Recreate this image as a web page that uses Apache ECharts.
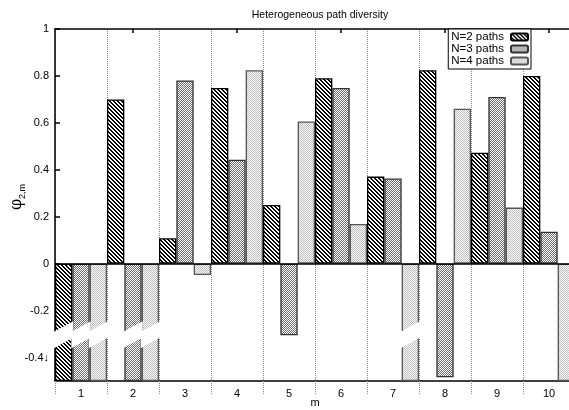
<!DOCTYPE html>
<html>
<head>
<meta charset="utf-8">
<script src="https://cdn.jsdelivr.net/npm/echarts@6/dist/echarts.min.js"></script>
<style>
  html, body { margin: 0; padding: 0; background: #fff; }
  #chart { width: 569px; height: 410px; }
</style>
</head>
<body>
<div id="chart"></div>
<script>
// 数据
var categories = ['1', '2', '3', '4', '5', '6', '7', '8', '9', '10'];
var seriesNames = ['N=2 paths', 'N=3 paths', 'N=4 paths'];
// values below -0.5 run off the axis, drawn down to the bottom
var n2Values = [-0.5, 0.70, 0.108, 0.749, 0.25, 0.79, 0.371, 0.824, 0.473, 0.80];
var n3Values = [-0.5, -0.5, 0.781, 0.443, -0.305, 0.749, 0.363, -0.484, 0.71, 0.136];
var n4Values = [-0.5, -0.5, -0.048, 0.824, 0.606, 0.169, -0.5, 0.66, 0.239, -0.5];
// [category index, series index] of bars drawn with a break
var brokenBars = [[0, 0], [0, 1], [0, 2], [1, 1], [1, 2], [6, 2]];

// 填充图案 (pixel tiles)
function makePattern(type) {
    var c = document.createElement('canvas');
    var n, ctx, x, y;
    if (type === 'back') {
        n = 4;
        c.width = n; c.height = n;
        ctx = c.getContext('2d');
        ctx.fillStyle = '#fff'; ctx.fillRect(0, 0, n, n);
        ctx.fillStyle = '#000';
        for (y = 0; y < n; y++) {
            for (x = 0; x < n; x++) {
                var d = ((x - y) % n + n) % n;
                if (d === 0 || d === 1) ctx.fillRect(x, y, 1, 1);
            }
        }
    } else if (type === 'fwd') {
        n = 2;
        c.width = n; c.height = n;
        ctx = c.getContext('2d');
        ctx.fillStyle = '#fff'; ctx.fillRect(0, 0, n, n);
        ctx.fillStyle = '#6e6e6e';
        ctx.fillRect(1, 0, 1, 1); ctx.fillRect(0, 1, 1, 1);
    } else {
        c.width = 2; c.height = 2;
        ctx = c.getContext('2d');
        ctx.fillStyle = '#f6f6f6'; ctx.fillRect(0, 0, 2, 2);
        ctx.fillStyle = '#c2c2c2';
        ctx.fillRect(0, 0, 1, 1); ctx.fillRect(1, 1, 1, 1);
    }
    return { image: c, repeat: 'repeat' };
}

var myChart = echarts.init(document.getElementById('chart'), null, { renderer: 'canvas' });
var dotColor = '#5c9696';
var font = 'Liberation Sans, Arial, sans-serif';

function barSeries(name, data, pattern, border) {
    return {
        name: name,
        type: 'bar',
        data: data,
        barGap: '0%',
        barCategoryGap: '0%',
        itemStyle: {
            color: makePattern(pattern),
            borderColor: border,
            borderWidth: 1.3
        },
        z: 2
    };
}

var s1 = barSeries(seriesNames[0], n2Values, 'back', '#000');
s1.markLine = {
    silent: true,
    symbol: 'none',
    label: { show: false },
    lineStyle: { color: '#000', width: 1.5, type: 'solid' },
    data: [{ yAxis: 0 }]
};

var option = {
    animation: false,
    title: {
        text: 'Heterogeneous path diversity',
        left: 315,
        top: 5,
        textAlign: 'center',
        textStyle: { fontSize: 10.5, fontWeight: 'normal', color: '#000', fontFamily: font }
    },
    legend: {
        data: seriesNames,
        orient: 'vertical',
        right: 38,
        top: 29,
        align: 'right',
        itemWidth: 17,
        itemHeight: 7,
        itemGap: 0,
        padding: [2, 2, 2, 3],
        borderColor: '#000',
        borderWidth: 1,
        backgroundColor: '#fff',
        textStyle: { fontSize: 11.5, lineHeight: 11.5, color: '#000', fontFamily: font, padding: [0, 2, 0, 0] }
    },
    grid: { left: 55, top: 29, width: 520, height: 352, outerBoundsMode: 'none', containLabel: false },
    xAxis: [
        {
            type: 'category',
            data: categories,
            name: 'm',
            nameLocation: 'middle',
            nameGap: 16,
            nameMoveOverlap: false,
            nameTextStyle: { fontSize: 11, color: '#000', fontFamily: font },
            axisLine: { onZero: false, lineStyle: { color: '#000', width: 1.5 } },
            axisTick: { show: true, length: 14, lineStyle: { color: dotColor, type: 'dotted', width: 1 } },
            axisLabel: { margin: 7, fontSize: 11, color: '#000', fontFamily: font },
            splitLine: { show: true, lineStyle: { color: dotColor, type: 'dotted', width: 1 } }
        },
        {
            type: 'category',
            data: categories,
            position: 'top',
            axisLine: { onZero: false, lineStyle: { color: '#000', width: 1.5 } },
            axisTick: {
                show: true, inside: true, length: 4, alignWithLabel: true,
                interval: function (index) { return index % 2 === 1; },
                lineStyle: { color: '#000', width: 1.5 }
            },
            axisLabel: { show: false },
            splitLine: { show: false }
        }
    ],
    yAxis: {
        type: 'value',
        min: -0.5,
        max: 1,
        splitNumber: 7,
        axisLine: { show: true, lineStyle: { color: '#000', width: 1.5 } },
        axisTick: { show: true, inside: true, length: 5, lineStyle: { color: '#000', width: 1.5 } },
        axisLabel: {
            showMinLabel: false,
            margin: 6,
            fontSize: 11,
            color: '#000',
            fontFamily: font,
            formatter: function (v) {
                var s = String(Math.round(v * 10) / 10);
                return Math.abs(v + 0.4) < 1e-6 ? s + '↓' : s;
            }
        },
        splitLine: { show: false }
    },
    graphic: [{
        type: 'text',
        x: 17,
        y: 197,
        rotation: Math.PI / 2,
        style: {
            text: '{a|φ}{b|2,m}',
            textAlign: 'center',
            textVerticalAlign: 'middle',
            rich: {
                a: { fontSize: 16, fontFamily: 'DejaVu Serif, serif', fill: '#000', lineHeight: 20 },
                b: { fontSize: 9, fontFamily: font, fill: '#000', verticalAlign: 'bottom', lineHeight: 20, padding: [6, 0, 0, 0] }
            }
        }
    }],
    series: [
        s1,
        barSeries(seriesNames[1], n3Values, 'fwd', '#333'),
        barSeries(seriesNames[2], n4Values, 'dots', '#555'),
        {
            // 断开标记
            type: 'custom',
            data: brokenBars,
            z: 5,
            silent: true,
            renderItem: function (params, api) {
                var cat = api.value(0);
                var idx = api.value(1);
                var bw = api.size([1, 0])[0] / 3;
                var cx = api.coord([cat, 0])[0];
                var x0 = cx + (idx - 1.5) * bw - 1;
                var x1 = x0 + bw + 2;
                var yl1 = api.coord([cat, -0.29])[1];
                var yl2 = api.coord([cat, -0.36])[1];
                var yr1 = api.coord([cat, -0.245])[1];
                var yr2 = api.coord([cat, -0.315])[1];
                return {
                    type: 'polygon',
                    shape: { points: [[x0, yl1], [x1, yr1], [x1, yr2], [x0, yl2]] },
                    style: { fill: '#fff', stroke: null }
                };
            }
        }
    ]
};

myChart.setOption(option);
window.addEventListener('resize', function () {
    myChart.resize();
});
</script>
</body>
</html>
